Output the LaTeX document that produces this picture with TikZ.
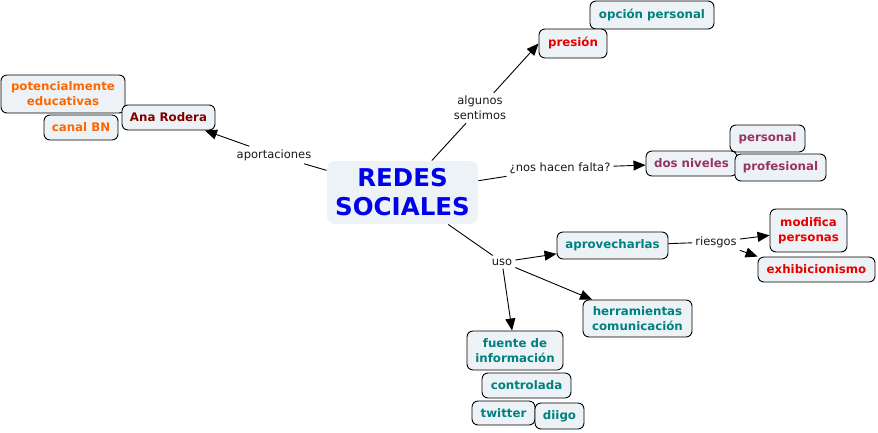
\documentclass[tikz,border=0pt]{standalone}
\usepackage{fontspec}
\setmainfont{DejaVu Sans}
\usetikzlibrary{arrows.meta}
\definecolor{boxfill}{RGB}{236,242,245}
\definecolor{tealc}{RGB}{0,128,128}
\definecolor{redc}{RGB}{235,0,0}
\definecolor{orangec}{RGB}{255,102,0}
\definecolor{darkredc}{RGB}{128,0,0}
\definecolor{purplec}{RGB}{153,51,102}
\definecolor{bluec}{RGB}{0,0,235}
\tikzset{
  concept/.style={draw=black, line width=0.9pt, rounded corners=6pt, fill=boxfill,
    inner sep=0pt, align=center, font=\fontsize{11.8}{15}\selectfont\bfseries},
  linklabel/.style={inner sep=3pt, align=center, font=\fontsize{11.5}{15}\selectfont, text=black!90},
  conn/.style={draw=black, line width=0.9pt},
  arr/.style={conn, -{Triangle[length=12pt,width=10pt]}}
}
\begin{document}
\begin{tikzpicture}[x=1pt,y=-1pt]
\useasboundingbox (0,0) rectangle (878,432);
% central concept
\node[concept, draw=none, rounded corners=8pt, minimum width=151pt, minimum height=63pt,
  font=\fontsize{24.5}{29}\selectfont\bfseries, text=bluec] (redes) at (402.5,192.5) {REDES\\SOCIALES};
% top branch
\node[concept, minimum width=124pt, minimum height=28pt, text=tealc] (opcion) at (652,15) {opción personal};
\node[concept, minimum width=68pt, minimum height=29pt, text=redc] (presion) at (573,43.5) {presión};
% left branch
\node[concept, minimum width=124pt, minimum height=38pt, text=orangec] (potencial) at (63,94) {potencialmente\\educativas};
\node[concept, minimum width=74pt, minimum height=25pt, text=orangec] (canal) at (81,127.5) {canal BN};
\node[concept, minimum width=93pt, minimum height=25pt, text=darkredc] (ana) at (168.5,117.5) {Ana Rodera};
% right branch
\node[concept, minimum width=75pt, minimum height=27pt, text=purplec] (personal) at (767.5,138.5) {personal};
\node[concept, minimum width=91pt, minimum height=25pt, text=purplec] (dos) at (691.5,163.5) {dos niveles};
\node[concept, minimum width=91pt, minimum height=27pt, text=purplec] (profesional) at (780.5,167.5) {profesional};
% uso branch
\node[concept, minimum width=111pt, minimum height=27pt, text=tealc] (aprove) at (612.5,245.5) {aprovecharlas};
\node[concept, minimum width=77pt, minimum height=43pt, text=redc] (modifica) at (808.5,230.5) {modifica\\personas};
\node[concept, minimum width=117pt, minimum height=25pt, text=redc] (exhib) at (816.5,269.5) {exhibicionismo};
\node[concept, minimum width=109pt, minimum height=37pt, text=tealc] (herram) at (637.5,318.5) {herramientas\\comunicación};
\node[concept, minimum width=96pt, minimum height=39pt, text=tealc] (fuente) at (515,350.5) {fuente de\\información};
\node[concept, minimum width=89pt, minimum height=25pt, text=tealc] (controlada) at (526.5,385.5) {controlada};
\node[concept, minimum width=63pt, minimum height=24pt, text=tealc] (twitter) at (503.5,413) {twitter};
\node[concept, minimum width=49pt, minimum height=26pt, text=tealc] (diigo) at (559.5,416) {diigo};
% link labels
\node[linklabel] (algunos) at (480,108) {algunos\\sentimos};
\node[linklabel] (aport) at (274,155) {aportaciones};
\node[linklabel] (nos) at (560,168) {¿nos hacen falta?};
\node[linklabel] (uso) at (502,262) {uso};
\node[linklabel] (riesgos) at (716,242) {riesgos};
% connectors
\draw[conn] (redes) -- (algunos);
\draw[arr] (algunos) -- (presion.west);
\draw[conn] (redes) -- (aport);
\draw[arr] (aport) -- (ana);
\draw[conn] (redes) -- (nos);
\draw[arr] (nos) -- (dos);
\draw[conn] (redes) -- (uso);
\draw[arr] (uso) -- (aprove);
\draw[arr] (uso) -- (herram);
\draw[arr] (uso) -- (fuente);
\draw[conn] (aprove) -- (riesgos);
\draw[arr] (riesgos) -- (modifica);
\draw[arr] (riesgos) -- (exhib.north west);
\end{tikzpicture}
\end{document}
